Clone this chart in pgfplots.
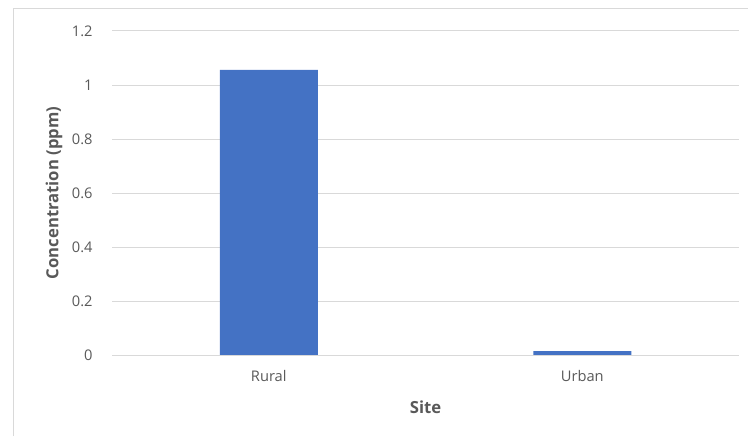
\documentclass[border=0pt]{standalone}
\usepackage{pgfplots}
\pgfplotsset{compat=1.18}
\usepackage{fontspec}
\setmainfont{Open Sans}
\definecolor{txtgray}{HTML}{595959}
\definecolor{gridgray}{HTML}{D9D9D9}
\definecolor{barblue}{HTML}{4472C4}
\begin{document}
\begin{tikzpicture}[x=0.75pt,y=0.75pt]
\path[use as bounding box] (0,0) rectangle (748,436);
\draw[gridgray, line width=0.75pt] (13,0) -- (13,427.5) -- (760,427.5);
\begin{axis}[
  at={(84pt,60.75pt)}, anchor=south west,
  scale only axis, width=470.25pt, height=243pt,
  xmin=-0.5, xmax=1.5, ymin=0, ymax=1.2,
  ytick={0,0.2,0.4,0.6,0.8,1,1.2},
  xtick={0,1}, xticklabels={Rural,Urban},
  axis line style={draw=none},
  axis x line*=bottom,
  ymajorgrids, grid style={gridgray, line width=0.75pt},
  major tick length=0pt,
  tick label style={font=\fontsize{11}{13}\selectfont, text=txtgray},
  /pgf/number format/assume math mode=true,
  yticklabel style={xshift=-11pt},
  xticklabel style={yshift=-8pt},
  ylabel={Concentration (ppm)}, xlabel={Site},
  label style={font=\bfseries\fontsize{12.5}{15}\selectfont, text=txtgray},
  ylabel style={at={(axis description cs:-0.0925,0.5)}, anchor=center},
  xlabel style={at={(axis description cs:0.5,-0.1605)}, anchor=center},
  ybar, bar width=73.5pt,
]
\addplot[fill=barblue, draw=none] coordinates {(0,1.056) (1,0.014)};
\draw[gridgray, line width=0.75pt] (rel axis cs:0,0) -- (rel axis cs:1,0);
\end{axis}
\end{tikzpicture}
\end{document}
